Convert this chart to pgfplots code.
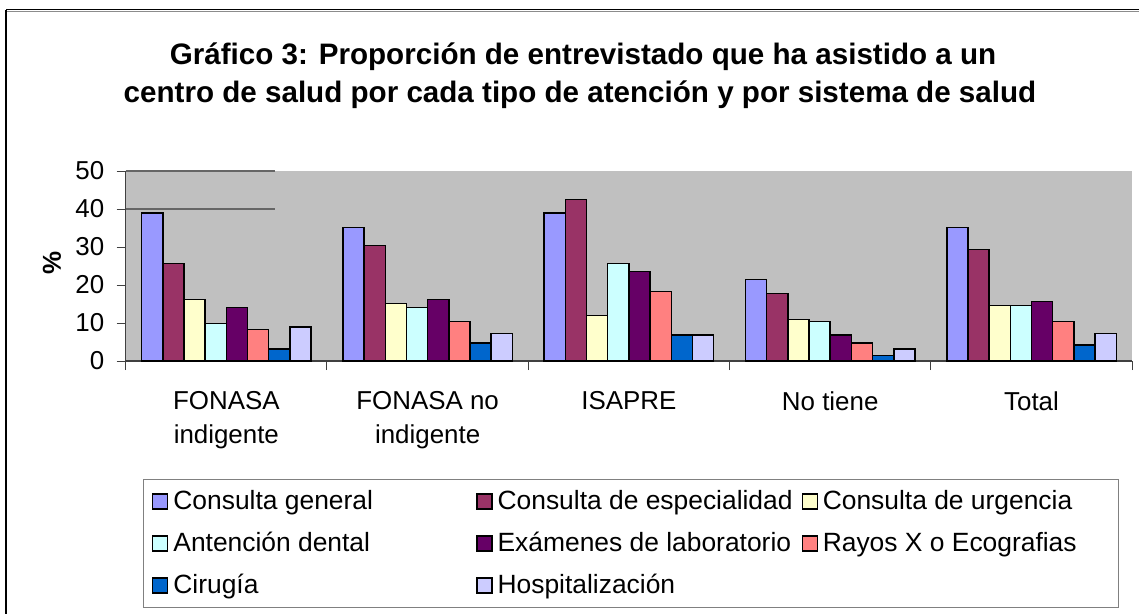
\documentclass[border=0pt]{standalone}
\usepackage{pgfplots}
\pgfplotsset{compat=1.18}
\usepackage{fontspec}
\setmainfont{Liberation Sans}
\definecolor{c1}{HTML}{9999FF}
\definecolor{c2}{HTML}{993366}
\definecolor{c3}{HTML}{FFFFCC}
\definecolor{c4}{HTML}{CCFFFF}
\definecolor{c5}{HTML}{660066}
\definecolor{c6}{HTML}{FF8080}
\definecolor{c7}{HTML}{0066CC}
\definecolor{c8}{HTML}{CCCCFF}
\definecolor{bg}{HTML}{C0C0C0}
\newcommand{\lfont}{\fontsize{26}{34}\selectfont}
\newcommand{\legfont}{\fontsize{26.5}{34}\selectfont}
\newcommand{\legent}[2]{\makebox[#1][l]{\hspace{3bp}#2}}
\begin{document}
\begin{tikzpicture}
\path[use as bounding box] (0bp,0bp) rectangle (1139bp,-614bp);
\draw[black!45, line width=1bp] (7bp,-11bp) -- (1145bp,-11bp);
\draw[black, line width=1.3bp] (6bp,-9.5bp) -- (1145bp,-9.5bp);
\draw[black, line width=1.3bp] (6bp,-9.5bp) -- (6bp,-620bp);
\node[font=\fontsize{29.7}{32}\selectfont\bfseries, anchor=base] at (583bp,-64bp) {Gráfico 3: Proporción de entrevistado que ha asistido a un};
\node[font=\fontsize{29.7}{32}\selectfont\bfseries, anchor=base] at (580bp,-102bp) {centro de salud por cada tipo de atención y por sistema de salud};
\node[font=\lfont\bfseries, rotate=90] at (52bp,-263bp) {\%};
\begin{axis}[
  at={(125.7bp,-361bp)}, anchor=south west,
  scale only axis, width=1006.5bp, height=190bp,
  axis background/.style={fill=bg},
  axis x line*=bottom, axis y line*=left,
  axis line style={black!75, line width=1.2bp},
  ymin=0, ymax=50, ytick={0,10,...,50},
  xmin=-0.5, xmax=4.5,
  xtick={-0.5,0.5,1.5,2.5,3.5,4.5},
  x tick label as interval,
  xticklabels={{FONASA\\indigente},{FONASA no\\indigente},{ISAPRE},{No tiene},{Total}},
  tick align=outside, major tick length=9bp,
  tick style={black!75, line width=1bp},
  /pgf/number format/assume math mode=true,
  yticklabel style={font=\lfont, xshift=-9bp},
  xticklabel style={font=\lfont, align=center, anchor=north, yshift=-18bp},
  ybar=0pt, bar width=0.10526,
  every axis plot/.append style={draw=black, line width=1.5bp},
  clip=false,
  legend columns=3,
  legend style={at={(0.01689,-0.6211)}, anchor=north west, draw=black!50, line width=1bp,
    font=\legfont, inner xsep=9bp, inner ysep=11bp, column sep=0pt, row sep=20bp,
    nodes={text height=19bp, text depth=3bp, inner ysep=0pt, inner xsep=2bp}},
  legend cell align=left,
  legend image code/.code={\draw[#1, line width=1.2bp] (0bp,-7.5bp) rectangle (15bp,7.5bp);},
]
\draw[black!60, line width=1.3bp] (axis cs:-0.5,40) -- (axis cs:0.242,40);
\draw[black!60, line width=1.3bp] (axis cs:-0.5,50) -- (axis cs:0.242,50);
\addplot[fill=c1] coordinates {(0,38.9) (1,35.1) (2,38.9) (3,21.5) (4,35.1)};
\addplot[fill=c2] coordinates {(0,25.7) (1,30.4) (2,42.5) (3,17.8) (4,29.4)};
\addplot[fill=c3] coordinates {(0,16.2) (1,15.1) (2,12.0) (3,10.9) (4,14.6)};
\addplot[fill=c4] coordinates {(0,9.9) (1,14.1) (2,25.7) (3,10.4) (4,14.6)};
\addplot[fill=c5] coordinates {(0,14.1) (1,16.2) (2,23.6) (3,6.9) (4,15.6)};
\addplot[fill=c6] coordinates {(0,8.3) (1,10.4) (2,18.3) (3,4.7) (4,10.4)};
\addplot[fill=c7] coordinates {(0,3.1) (1,4.7) (2,6.9) (3,1.5) (4,4.2)};
\addplot[fill=c8] coordinates {(0,8.9) (1,7.3) (2,6.9) (3,3.1) (4,7.3)};
\legend{\legent{304bp}{Consulta general},\legent{305bp}{Consulta de especialidad},\legent{288bp}{Consulta de urgencia},
  \legent{304bp}{Antención dental},\legent{305bp}{Exámenes de laboratorio},\legent{288bp}{Rayos X o Ecografias},
  \legent{304bp}{Cirugía},\legent{305bp}{Hospitalización}}
\end{axis}
\end{tikzpicture}
\end{document}
